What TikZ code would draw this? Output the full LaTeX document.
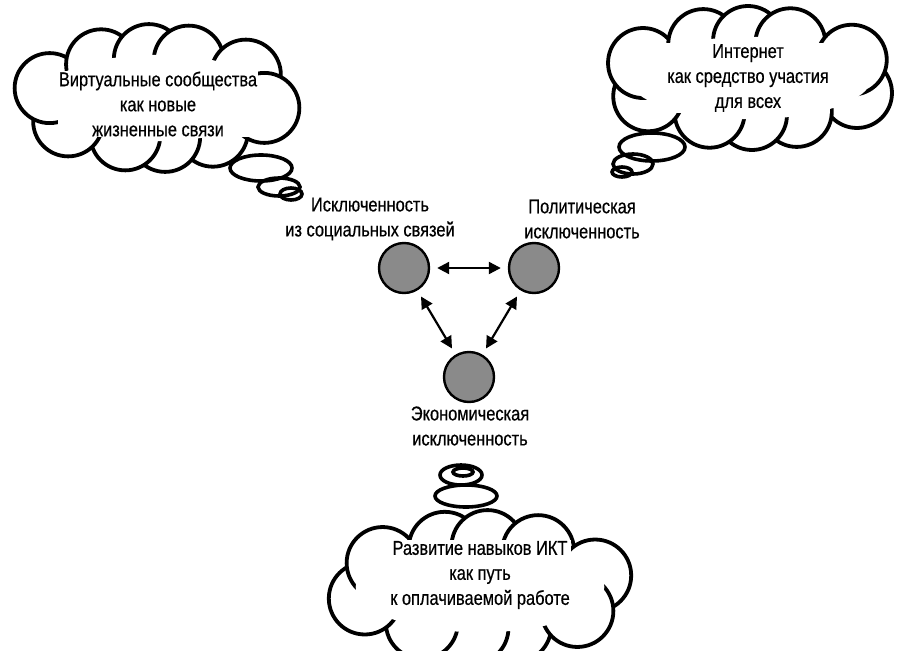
\documentclass[tikz,border=0pt]{standalone}
\usepackage{fontspec}
\setmainfont{Liberation Sans}[FakeStretch=0.82, FakeBold=0.5]
\usetikzlibrary{arrows.meta}
\definecolor{blobgray}{HTML}{8A8A8A}
\tikzset{
    puff/.style={fill=white, draw=black, line width=3.8pt},
    blob/.style={circle, draw, line width=2.4pt, fill=blobgray, minimum size=50pt, inner sep=0pt},
    lbl/.style={align=center},
    cloudtext/.style={lbl, fill=white, inner sep=1pt},
    link/.style={{Triangle[length=12pt,width=12pt]}-{Triangle[length=12pt,width=12pt]}, line width=2.2pt, shorten <=7pt, shorten >=7pt},
    bubble/.style={line width=3.6pt},
}
% cloud: centre x, centre y, half width, half height, puff radius, puffs, phase
\newcommand{\puffcloud}[7]{%
    \pgfmathsetmacro{\pa}{#3-#5}
    \pgfmathsetmacro{\pb}{#4-#5}
    \pgfmathsetmacro{\pk}{(\pa/\pb-1)/(2*(\pa/\pb+1))*180/pi}
    \foreach \i in {1,...,#6} {
        \pgfmathsetmacro{\angu}{#7+\i*360/#6}
        \pgfmathsetmacro{\angw}{\angu+\pk*sin(2*\angu)}
        \draw[puff] ({#1+\pa*cos(\angw)},{#2+\pb*sin(\angw)}) circle[radius=#5];
    }
    \fill[white] (#1,#2) ellipse[x radius=\pa+0.12*#5, y radius=\pb+0.12*#5];
}

\begin{document}
\begin{tikzpicture}[x=1pt, y=-1pt, font=\fontsize{20}{25}\selectfont]
    \useasboundingbox (0,0) rectangle (904,650);

    % trails of the thought clouds
    \draw[bubble] (261,168) ellipse (31pt and 13pt);
    \draw[bubble] (279,187) ellipse (21pt and 9pt);
    \draw[bubble] (291,194) ellipse (11pt and 6pt);

    \draw[bubble] (652,147) ellipse (33pt and 14pt);
    \draw[bubble] (633,164) ellipse (20pt and 10pt);
    \draw[bubble] (622,172) ellipse (10pt and 5pt);

    \draw[bubble] (466,496) ellipse (31pt and 11pt);
    \draw[bubble] (461,475) ellipse (21pt and 10pt);
    \draw[bubble] (463,472) ellipse (10pt and 4pt);

    % clouds
    \puffcloud{157}{98}{146}{74}{35}{10}{10}
    \puffcloud{750}{78}{152}{72}{35}{10}{-20}
    \puffcloud{480}{587}{156}{77}{36}{10}{25}

    \node[cloudtext] (social) at (158,104) {Виртуальные сообщества\\как новые\\жизненные связи};
    \node[cloudtext] (internet) at (748,78) {Интернет\\как средство участия\\для всех};
    \node[cloudtext] (skills) at (480,575) {Развитие навыков ИКТ\\как путь\\к оплачиваемой работе};

    % exclusion triangle
    \node[blob] (soc) at (404,268) {};
    \node[blob] (pol) at (534,268) {};
    \node[blob] (eco) at (469,377) {};

    \node[lbl] (soclbl) at (370,219) {Исключенность\\из социальных связей};
    \node[lbl] (pollbl) at (582,219) {Политическая\\исключенность};
    \node[lbl] (ecolbl) at (470,426) {Экономическая\\исключенность};

    \draw[link] (soc) -- (pol);
    \draw[link] (soc) -- (eco);
    \draw[link] (pol) -- (eco);
\end{tikzpicture}
\end{document}
